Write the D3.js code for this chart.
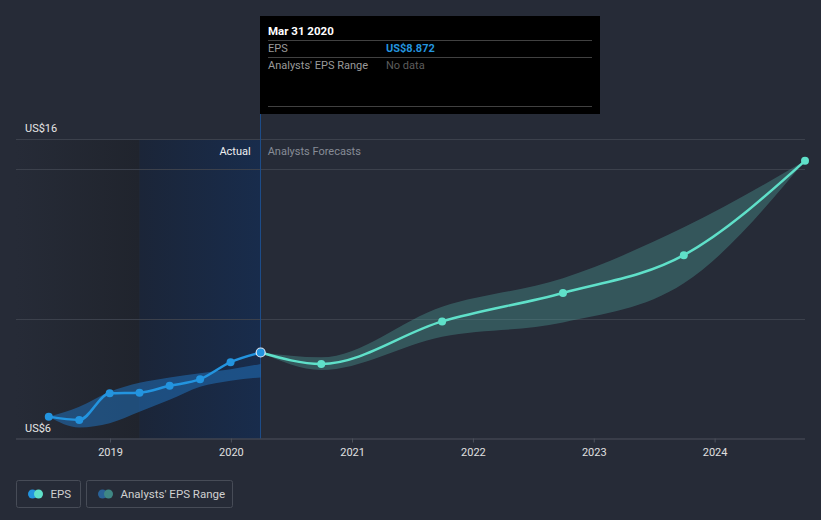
<!DOCTYPE html>
<html><head><meta charset="utf-8">
<script src="https://cdn.jsdelivr.net/npm/d3@7"></script>
<style>
html,body{margin:0;padding:0;background:#262b37;}
svg{display:block;font-family:Roboto,"Open Sans",sans-serif;}
</style></head>
<body>
<svg id="chart" width="821" height="520"></svg>
<script>
// ---- data ----
const actualDates = ["2018-06-30","2018-09-30","2018-12-31","2019-03-31","2019-06-30","2019-09-30","2019-12-31","2020-03-31"];
const actualEPS   = [6.73, 6.62, 7.51, 7.53, 7.76, 7.98, 8.55, 8.872];
const pastRangeLow  = [6.73, 6.37, 6.51, 6.89, 7.29, 7.73, 7.93, 8.04];
const pastRangeHigh = [6.73, 7.06, 7.56, 7.86, 8.04, 8.18, 8.31, 8.49];
const forecastDates = ["2020-03-31","2020-09-30","2021-09-30","2022-09-30","2023-09-30","2024-09-30"];
const forecastEPS   = [8.872, 8.49, 9.91, 10.86, 12.12, 15.27];
const forecastLow   = [8.872, 8.29, 9.40, 9.87, 11.18, 15.27];
const forecastHigh  = [8.872, 8.71, 10.40, 11.35, 13.05, 15.27];
const yLabelValues = [6, 16];
const yLabels = ["US$6", "US$16"];
const yGridValues = [10, 15, 16];
const xTickYears = [2019, 2020, 2021, 2022, 2023, 2024];
const tooltipTitle = "Mar 31 2020";
const tooltipRows = [["EPS","US$8.872"],["Analysts' EPS Range","No data"]];
const legendItems = ["EPS", "Analysts' EPS Range"];

(function(){
const parse = d3.timeParse("%Y-%m-%d");
const svg = d3.select("#chart");
const W = 821, H = 520;
const pL = 16, pR = 805, pT = 139, pB = 438.5;
const x = d3.scaleTime().domain([parse("2018-03-23"), parse("2024-09-30")]).range([pL, pR]);
const y = d3.scaleLinear().domain([6, 16]).range([pB, pT]);

const BLUE = "#2394df", TEAL = "#5fe0c9";

const defs = svg.append("defs");
const g1 = defs.append("linearGradient").attr("id","pastShade").attr("x1","0").attr("x2","1").attr("y1","0").attr("y2","0");
g1.append("stop").attr("offset","0").attr("stop-color","#262b37");
g1.append("stop").attr("offset","1").attr("stop-color","#20242d");
const g2 = defs.append("linearGradient").attr("id","yearShade").attr("x1","0").attr("x2","1").attr("y1","0").attr("y2","0");
g2.append("stop").attr("offset","0").attr("stop-color","#1b2538");
g2.append("stop").attr("offset","1").attr("stop-color","#182c4c");

svg.append("rect").attr("width",W).attr("height",H).attr("fill","#262b37");

const lastActual = parse(actualDates[actualDates.length-1]);
const yearBefore = parse("2019-03-31");
svg.append("rect").attr("x", pL).attr("y", pT).attr("width", x(yearBefore)-pL).attr("height", pB-pT).attr("fill","url(#pastShade)");
svg.append("rect").attr("x", x(yearBefore)).attr("y", pT).attr("width", x(lastActual)-x(yearBefore)).attr("height", pB-pT).attr("fill","url(#yearShade)");

// gridlines
svg.append("g").selectAll("line").data(yGridValues).join("line")
  .attr("x1", pL).attr("x2", pR).attr("y1", d=>Math.round(y(d))+0.5).attr("y2", d=>Math.round(y(d))+0.5)
  .attr("stroke","#3c414c").attr("stroke-width",1);

// vertical divider
svg.append("line").attr("x1", Math.round(x(lastActual))-0.5).attr("x2", Math.round(x(lastActual))-0.5)
  .attr("y1", 16).attr("y2", pB).attr("stroke","#1d4c88").attr("stroke-width",1);

// x axis
const xAxis = d3.axisBottom(x).tickValues(xTickYears.map(yr=>new Date(yr,0,1))).tickFormat(d3.timeFormat("%Y")).tickSize(4).tickPadding(6);
const ax = svg.append("g").attr("transform",`translate(0,${pB})`).call(xAxis);
ax.select(".domain").attr("stroke","#4c515c").attr("d", `M${pL},0.5H${pR}`);
ax.selectAll(".tick line").attr("stroke","#4c515c");
ax.selectAll(".tick text").attr("fill","#e0e0e0").attr("font-size",11).attr("font-family","Roboto, sans-serif");

// y labels
svg.append("g").selectAll("text").data(yLabelValues).join("text")
  .attr("x", 25).attr("y", d=>y(d)-7).attr("fill","#e6e6e6").attr("font-size",11)
  .text((d,i)=>yLabels[i]);

// Actual / Forecast labels
svg.append("text").attr("x", x(lastActual)-10).attr("y", 155).attr("text-anchor","end").attr("fill","#f0f0f0").attr("font-size",11).text("Actual");
svg.append("text").attr("x", x(lastActual)+7).attr("y", 155).attr("fill","#878c96").attr("font-size",11).text("Analysts Forecasts");

// bands
const area = d3.area().x(d=>x(d.date)).y0(d=>y(d.lo)).y1(d=>y(d.hi)).curve(d3.curveMonotoneX);
const pastBand = actualDates.map((d,i)=>({date:parse(d), lo:pastRangeLow[i], hi:pastRangeHigh[i]}));
const foreBand = forecastDates.map((d,i)=>({date:parse(d), lo:forecastLow[i], hi:forecastHigh[i]}));
svg.append("path").datum(pastBand).attr("d", area).attr("fill","#2170b8").attr("fill-opacity",0.55);
svg.append("path").datum(foreBand).attr("d", area).attr("fill","#4fa6a0").attr("fill-opacity",0.35);

// lines
const line = d3.line().x(d=>x(d.date)).y(d=>y(d.v)).curve(d3.curveMonotoneX);
const actual = actualDates.map((d,i)=>({date:parse(d), v:actualEPS[i]}));
const fore = forecastDates.map((d,i)=>({date:parse(d), v:forecastEPS[i]}));
svg.append("path").datum(fore).attr("d", line).attr("fill","none").attr("stroke",TEAL).attr("stroke-width",2.5);
svg.append("path").datum(actual).attr("d", line).attr("fill","none").attr("stroke",BLUE).attr("stroke-width",2.5);

svg.append("g").selectAll("circle").data(fore.slice(1)).join("circle")
  .attr("cx", d=>x(d.date)).attr("cy", d=>y(d.v)).attr("r",4).attr("fill",TEAL);
svg.append("g").selectAll("circle").data(actual.slice(0,-1)).join("circle")
  .attr("cx", d=>x(d.date)).attr("cy", d=>y(d.v)).attr("r",4).attr("fill",BLUE);
const last = actual[actual.length-1];
svg.append("circle").attr("cx", x(last.date)).attr("cy", y(last.v)).attr("r",4.5).attr("fill",BLUE).attr("stroke","#dfe8f5").attr("stroke-width",1.2);

// tooltip
const tt = svg.append("g");
tt.append("rect").attr("x",260).attr("y",16).attr("width",340).attr("height",98).attr("fill","#000");
tt.append("text").attr("x",268).attr("y",35).attr("fill","#fff").attr("font-size",11.5).attr("font-weight","bold").text(tooltipTitle);
[40.5, 57.5, 106.5].forEach(yy=>tt.append("line").attr("x1",268).attr("x2",592).attr("y1",yy).attr("y2",yy).attr("stroke","#414141"));
tooltipRows.forEach((r,i)=>{
  const yy = 52 + i*17;
  tt.append("text").attr("x",268).attr("y",yy).attr("fill","#9a9a9a").attr("font-size",11).text(r[0]);
  tt.append("text").attr("x",386).attr("y",yy).attr("fill", i===0?BLUE:"#5c5c5c").attr("font-size",11).attr("font-weight", i===0?"bold":"normal").text(r[1]);
});

// legend
const lg = svg.append("g");
const boxes = [{x:16.5,w:64,c1:BLUE,c2:TEAL},{x:86.5,w:146,c1:"#2a6297",c2:"#3f8784"}];
boxes.forEach((b,i)=>{
  lg.append("rect").attr("x",b.x).attr("y",480.5).attr("width",b.w).attr("height",27).attr("rx",2).attr("fill","none").attr("stroke","#474c57");
  lg.append("circle").attr("cx",b.x+16).attr("cy",494).attr("r",4.5).attr("fill",b.c1);
  lg.append("circle").attr("cx",b.x+22).attr("cy",494).attr("r",4.5).attr("fill",b.c2);
  lg.append("text").attr("x",b.x+34).attr("y",498).attr("fill","#d0d0d0").attr("font-size",11.5).text(legendItems[i]);
});
})();
</script>
</body></html>
